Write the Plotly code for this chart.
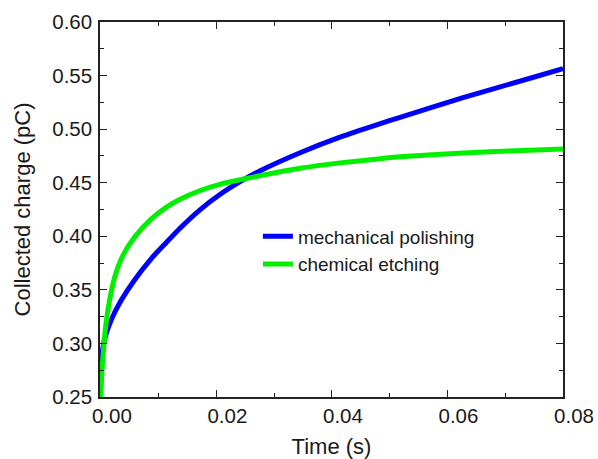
import plotly.graph_objects as go

# Data
time_mech = [0, 0.0006, 0.0018, 0.0035, 0.0058, 0.0087, 0.0113, 0.0137, 0.0171,
             0.0206, 0.0241, 0.0275, 0.0345, 0.0414, 0.048, 0.0518, 0.0627, 0.0743, 0.08]
charge_mech = [0.283, 0.303, 0.322, 0.340, 0.359, 0.379, 0.394, 0.4075, 0.4245,
               0.439, 0.451, 0.461, 0.478, 0.4925, 0.5045, 0.511, 0.5295, 0.5475, 0.5565]

time_chem = [0, 0.00017, 0.0005, 0.0009, 0.0015, 0.0024, 0.0038, 0.0058, 0.0087,
             0.0113, 0.0137, 0.0171, 0.0206, 0.0241, 0.0275, 0.0345, 0.0414, 0.048,
             0.0518, 0.0627, 0.0743, 0.08]
charge_chem = [0.25, 0.272, 0.297, 0.319, 0.340, 0.362, 0.382, 0.399, 0.416,
               0.427, 0.4345, 0.4425, 0.4485, 0.4528, 0.4565, 0.4635, 0.4685, 0.4722,
               0.4742, 0.4778, 0.4803, 0.4815]

names = ["mechanical polishing", "chemical etching"]
colors = ["#0000ff", "#00f000"]

x_ticks = [0.00, 0.02, 0.04, 0.06, 0.08]
x_ticklabels = ["0.00", "0.02", "0.04", "0.06", "0.08"]
y_ticks = [0.25, 0.30, 0.35, 0.40, 0.45, 0.50, 0.55, 0.60]
y_ticklabels = ["0.25", "0.30", "0.35", "0.40", "0.45", "0.50", "0.55", "0.60"]

FONT = "Liberation Sans, Arial, sans-serif"
TXT = "#1a1a1a"

fig = go.Figure()
for xs, ys, nm, c in [(time_mech, charge_mech, names[0], colors[0]),
                      (time_chem, charge_chem, names[1], colors[1])]:
    fig.add_trace(go.Scatter(x=xs, y=ys, mode="lines", name=nm,
                             line=dict(color=c, width=5, shape="spline", smoothing=0.6)))

axis_common = dict(
    showline=True, linecolor="#222", linewidth=1.5, mirror="allticks",
    ticks="inside", ticklen=7, tickwidth=1.3, tickcolor="#222",
    showgrid=False, zeroline=False, automargin=False,
    tickfont=dict(family=FONT, size=20.5, color=TXT),
)

fig.update_xaxes(
    **axis_common,
    range=[-0.00015, 0.08],
    tickvals=x_ticks, ticktext=x_ticklabels,
    ticklabelshift=11,
    minor=dict(ticks="inside", ticklen=4, tickwidth=1.2, tickcolor="#222", dtick=0.01,
               tick0=0, showgrid=False),
    title=dict(text="Time (s)", font=dict(family=FONT, size=22, color=TXT), standoff=16),
)
fig.update_yaxes(
    **axis_common,
    range=[0.25, 0.60],
    tickvals=y_ticks, ticktext=y_ticklabels,
    ticklabelstandoff=2,
    minor=dict(ticks="inside", ticklen=4, tickwidth=1.2, tickcolor="#222", dtick=0.025,
               tick0=0.25, showgrid=False),
    title=dict(text="Collected charge (pC)", font=dict(family=FONT, size=22, color=TXT), standoff=16),
)

fig.update_layout(
    width=598, height=459,
    margin=dict(l=100, r=35, t=22, b=62),
    plot_bgcolor="white", paper_bgcolor="white",
    legend=dict(x=0.341, y=0.479, xanchor="left", yanchor="top",
                font=dict(family=FONT, size=19, color=TXT),
                bgcolor="rgba(0,0,0,0)", tracegroupgap=0),
    showlegend=True,
)

# remove the default 8px page margin so the 598x459 figure fills the window
fig.write_html(
    "out.html",
    config={"displayModeBar": False},
    post_script="document.body.style.margin='0';document.body.style.overflow='hidden';",
)
